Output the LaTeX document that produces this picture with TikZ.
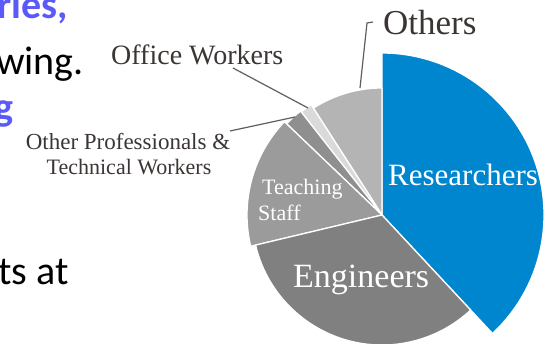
\documentclass[tikz,border=0pt]{standalone}
\usepackage{fontspec}
\setmainfont{Liberation Serif}
\newfontfamily\carl{Carlito}
\definecolor{slideblue}{RGB}{90,90,250}
\definecolor{resblue}{RGB}{0,133,207}
\definecolor{othersgray}{RGB}{180,180,180}
\definecolor{officegray}{RGB}{218,218,218}
\definecolor{profgray}{RGB}{143,143,143}
\definecolor{teachgray}{RGB}{155,155,155}
\definecolor{enggray}{RGB}{128,128,128}
\definecolor{labelcol}{RGB}{59,54,52}
\definecolor{leadcol}{RGB}{95,95,95}
\tikzset{
  slice/.style={draw=white, line width=1.3pt, line join=round},
  leader/.style={draw=leadcol, line width=1.2pt},
  lab/.style={text=labelcol, inner sep=0pt, anchor=base west},
  inlab/.style={text=white, inner sep=0pt, anchor=base west},
  slidetxt/.style={inner sep=0pt, anchor=base east},
}
\begin{document}
\begin{tikzpicture}[x=1pt,y=1pt]
\useasboundingbox (0,0) rectangle (545,344);
\clip (0,0) rectangle (545,344);
\fill[white] (0,0) rectangle (545,344);
% slide text fragments
\node[slidetxt, text=slideblue] (t1) at (68,325) {\carl\bfseries\fontsize{40}{44}\selectfont ries,};
\node[slidetxt] (t2) at (84,269) {\carl\fontsize{40}{44}\selectfont wing.};
\node[slidetxt, text=slideblue] (t3) at (14,223) {\carl\bfseries\fontsize{40}{44}\selectfont g};
\node[slidetxt] (t4) at (69,59) {\carl\fontsize{40}{44}\selectfont ts at};
% pie
\coordinate (C) at (382,129);
\fill[resblue, slice] (C) -- ++(-47:162) arc[start angle=-47, end angle=90, radius=162] -- cycle;
\fill[othersgray, slice] (C) -- ++(90:127) arc[start angle=90, end angle=122.7, radius=127] -- cycle;
\fill[officegray, slice] (C) -- ++(122.7:131) arc[start angle=122.7, end angle=128.1, radius=131] -- cycle;
\fill[profgray, slice] (C) -- ++(128.1:132) arc[start angle=128.1, end angle=136.3, radius=132] -- cycle;
\fill[teachgray, slice] (C) -- ++(136.3:135) arc[start angle=136.3, end angle=193.4, radius=135] -- cycle;
\fill[enggray, slice] (C) -- ++(193.4:130) arc[start angle=193.4, end angle=313, radius=130] -- cycle;
% labels
\node[lab] (others) at (383,309) {\fontsize{35}{38}\selectfont Others};
\node[lab] (office) at (111,279) {\fontsize{28}{30}\selectfont Office Workers};
\node[text=labelcol, inner sep=0pt, anchor=base, align=center] (prof1) at (128,194) {\fontsize{23}{25}\selectfont Other Professionals \&};
\node[text=labelcol, inner sep=0pt, anchor=base] (prof2) at (129,169) {\fontsize{22}{25}\selectfont Technical Workers};
\node[inlab] (teach1) at (262,149) {\fontsize{22}{24}\selectfont Teaching};
\node[inlab] (teach2) at (258,123) {\fontsize{22}{24}\selectfont Staff};
\node[inlab] (res) at (388,158) {\fontsize{31}{34}\selectfont Researchers};
\node[inlab] (eng) at (293,56) {\fontsize{34}{36}\selectfont Engineers};
% leader lines
\coordinate (oth0) at (373,322);
\coordinate (oth1) at (367,321);
\coordinate (oth2) at (360,256);
\coordinate (off1) at (233,276);
\coordinate (off2) at (308,236);
\coordinate (pro1) at (230,213);
\coordinate (pro2) at (295,227);
\draw[leader] (oth0) -- (oth1) -- (oth2);
\draw[leader] (off1) -- (off2);
\draw[leader] (pro1) -- (pro2);
\end{tikzpicture}
\end{document}
